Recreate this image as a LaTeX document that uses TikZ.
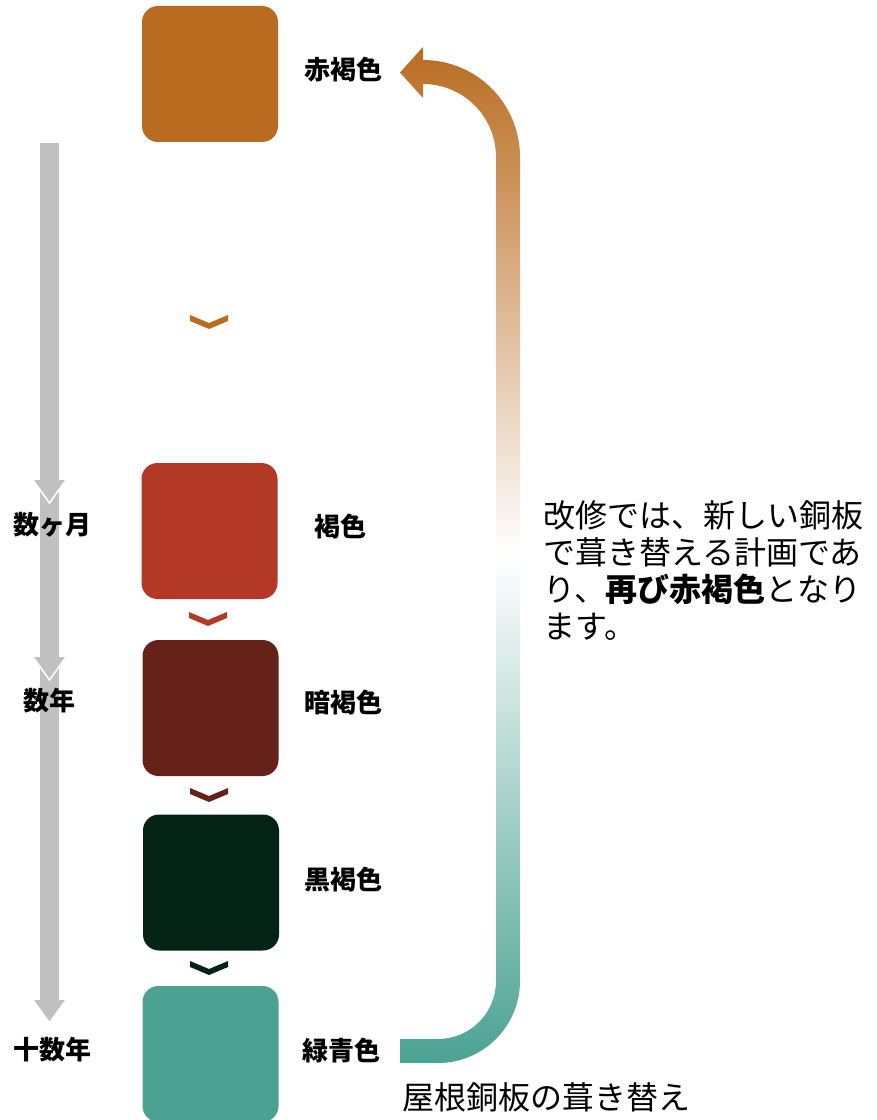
\documentclass[tikz,border=0pt]{standalone}
\usepackage{fontspec}
\usetikzlibrary{calc}
\setmainfont{Noto Sans CJK JP}
\definecolor{cOrange}{RGB}{185,108,32}
\definecolor{cRed}{RGB}{179,56,38}
\definecolor{cDark}{RGB}{102,34,25}
\definecolor{cBlack}{RGB}{3,36,21}
\definecolor{cTeal}{RGB}{75,162,147}
\definecolor{cGray}{RGB}{192,192,192}
\begin{document}
\begin{tikzpicture}[x=0.75pt,y=0.75pt,
  colorbox/.style={rounded corners=12pt, minimum width=102pt, minimum height=102pt, inner sep=0pt},
  lbl/.style={font=\fontsize{19.5pt}{22pt}\selectfont\bfseries, inner sep=0pt},
  bigtext/.style={font=\fontsize{24pt}{27.75pt}\selectfont, inner sep=0pt},
  chev/.pic={\fill (-19,7) -- (0,-1) -- (19,7) -- (19,1) -- (0,-7) -- (-19,1) -- cycle;},
  grayhead/.pic={\fill[cGray] (-16.5,0) -- (16.5,0) -- (0,-23) -- cycle;
                 \draw[white, line width=1.2pt] (-16.5,0) -- (0,-23) -- (16.5,0);}]
\useasboundingbox (0,0) rectangle (877,-1120);

% colour boxes
\node[colorbox, fill=cOrange] (b1) at (210,-74) {};
\node[colorbox, fill=cRed]    (b2) at (209.5,-531) {};
\node[colorbox, fill=cDark]   (b3) at (210.5,-708) {};
\node[colorbox, fill=cBlack]  (b4) at (211,-882.5) {};
\node[colorbox, fill=cTeal]   (b5) at (210.5,-1054) {};

% labels
\node[lbl] (l1) at (343,-70) {赤褐色};
\node[lbl] (l2) at (340,-527) {褐色};
\node[lbl] (l3) at (343,-703) {暗褐色};
\node[lbl] (l4) at (343,-880) {黒褐色};
\node[lbl] (l5) at (341,-1051) {緑青色};

% chevrons
\pic[cOrange] at (209,-322) {chev};
\pic[cRed]    at (208,-619) {chev};
\pic[cDark]   at (209,-795) {chev};
\pic[cBlack]  at (209,-968) {chev};

% time line
\coordinate (t0) at (49.5,-143);
\coordinate (t3) at (49.5,-1005);
\fill[cGray] ($(t0)+(-9.5,0)$) rectangle ($(t3)+(9.5,0)$);
\pic at (49.5,-480) {grayhead};
\pic at (49.5,-657) {grayhead};
\pic at (49.5,-1000) {grayhead};
\node[lbl] (m1) at (52,-525) {数ヶ月};
\node[lbl] (m2) at (49,-701) {数年};
\node[lbl] (m3) at (52,-1050) {十数年};

% big return arrow
\shade[top color=cOrange, bottom color=cTeal, middle color=white]
  (400,-1063) -- (438,-1063) arc[start angle=-90,end angle=0,radius=82]
  -- (520,-157) arc[start angle=0,end angle=90,radius=97]
  -- (423,-47) -- (400,-72.5) -- (423,-98) -- (423,-84)
  arc[start angle=90,end angle=0,radius=73]
  -- (496,-981) arc[start angle=0,end angle=-90,radius=58]
  -- (400,-1039) -- cycle;

% texts
\node[bigtext, anchor=north west, align=left] (note) at (543,-500)
  {改修では、新しい銅板\\で葺き替える計画であ\\り、\textbf{再び赤褐色}となり\\ます。};
\node[bigtext] (cap) at (546,-1097) {屋根銅板の葺き替え};
\end{tikzpicture}
\end{document}
